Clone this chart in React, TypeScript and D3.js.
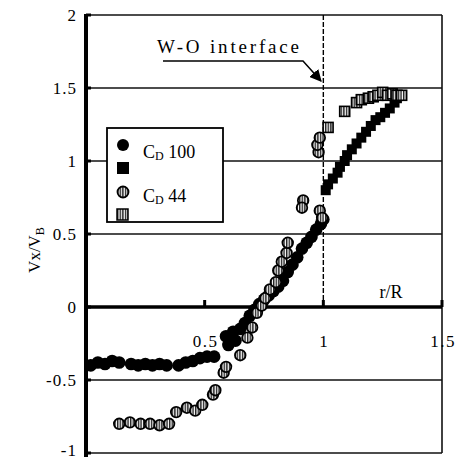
import React from "react";
import * as d3 from "d3";

const yTicks = [2, 1.5, 1, 0.5, 0, -0.5, -1];
const yTickLabels = ["2", "1.5", "1", "0.5", "0", "-0.5", "-1"];
const xTicks = [0.5, 1, 1.5];
const xTickLabels = ["0.5", "1", "1.5"];
const gridValues = [2, 1.5, 1, 0.5, -0.5, -1];

// C_D 100, circles (r/R, Vx/VB)
const cd100Circles: [number, number][] = [
  [0.02, -0.4], [0.05, -0.38], [0.08, -0.39], [0.11, -0.37], [0.14, -0.38],
  [0.19, -0.39], [0.22, -0.4], [0.25, -0.39], [0.28, -0.4], [0.31, -0.39],
  [0.34, -0.4], [0.39, -0.4], [0.42, -0.38], [0.45, -0.37], [0.48, -0.35],
  [0.51, -0.34], [0.54, -0.34],
  [0.59, -0.2], [0.6, -0.26], [0.62, -0.17], [0.63, -0.23], [0.65, -0.15],
  [0.67, -0.11], [0.69, -0.06], [0.71, -0.02], [0.73, 0.02], [0.75, 0.05],
  [0.77, 0.08], [0.79, 0.11], [0.81, 0.14], [0.83, 0.18], [0.85, 0.24],
  [0.87, 0.29], [0.89, 0.34], [0.91, 0.4], [0.93, 0.44], [0.95, 0.48],
  [0.97, 0.53], [0.99, 0.57], [1.0, 0.6],
];
// C_D 100, squares
const cd100Squares: [number, number][] = [
  [1.01, 0.8], [1.02, 0.84], [1.04, 0.88], [1.06, 0.92], [1.07, 0.96],
  [1.09, 1.0], [1.1, 1.04], [1.12, 1.08], [1.14, 1.12], [1.16, 1.16],
  [1.18, 1.2], [1.2, 1.24], [1.22, 1.28], [1.24, 1.3], [1.26, 1.33],
  [1.28, 1.36], [1.3, 1.4], [1.31, 1.43],
];
// C_D 44, circles
const cd44Circles: [number, number][] = [
  [0.14, -0.8], [0.185, -0.79], [0.23, -0.8], [0.27, -0.8], [0.31, -0.81],
  [0.35, -0.8], [0.38, -0.72], [0.425, -0.69], [0.46, -0.71], [0.49, -0.67],
  [0.535, -0.6], [0.545, -0.57], [0.58, -0.45], [0.59, -0.41], [0.65, -0.33],
  [0.68, -0.21], [0.7, -0.14], [0.72, -0.04], [0.74, 0.01], [0.755, 0.06],
  [0.775, 0.12], [0.8, 0.17], [0.81, 0.25], [0.825, 0.31], [0.845, 0.37],
  [0.85, 0.44], [0.915, 0.73], [0.91, 0.68], [0.985, 0.66], [0.995, 0.61],
  [0.98, 1.06], [0.975, 1.11], [0.985, 1.16],
];
// C_D 44, squares
const cd44Squares: [number, number][] = [
  [1.02, 1.23], [1.09, 1.34], [1.14, 1.4], [1.16, 1.42], [1.19, 1.43],
  [1.21, 1.44], [1.23, 1.45], [1.25, 1.47], [1.27, 1.45], [1.29, 1.46],
  [1.31, 1.45], [1.33, 1.45],
];

const FONT = "'Liberation Serif', 'DejaVu Serif', serif";

export default function App() {
  const x = d3.scaleLinear().domain([0, 1.5]).range([86, 442]);
  const y = d3.scaleLinear().domain([-1, 2]).range([453, 15]);
  const s = 10;

  return (
    <div style={{ position: "absolute", left: 0, top: 0 }}>
      <svg width={457} height={459} style={{ display: "block", background: "#fff" }}>
        <defs>
          <pattern id="hatch" width={2.6} height={4} patternUnits="userSpaceOnUse">
            <rect width={2.6} height={4} fill="#fff" />
            <rect x={0} width={1.4} height={4} fill="#222" />
          </pattern>
          <marker id="arrow" viewBox="0 0 10 10" refX={9} refY={5} markerWidth={8} markerHeight={8} orient="auto">
            <path d="M0,0 L10,5 L0,10 z" fill="#000" />
          </marker>
        </defs>

        {/* gridlines */}
        {gridValues.map((v) => (
          <line key={"g" + v} x1={x(0)} x2={x(1.5)} y1={y(v)} y2={y(v)} stroke="#111" strokeWidth={1.3} />
        ))}
        {/* right border */}
        <line x1={x(1.5)} x2={x(1.5)} y1={y(2)} y2={y(-1)} stroke="#111" strokeWidth={1.6} />
        {/* interface dashed line */}
        <line x1={x(1)} x2={x(1)} y1={y(2)} y2={y(0)} stroke="#000" strokeWidth={1.4} strokeDasharray="5,2" />

        {/* x axis at 0 */}
        <line x1={x(0)} x2={x(1.5)} y1={y(0)} y2={y(0)} stroke="#000" strokeWidth={3.5} />
        {xTicks.map((t) => (
          <line key={"xt" + t} x1={x(t)} x2={x(t)} y1={y(0)} y2={y(0) - 7} stroke="#000" strokeWidth={3} />
        ))}
        {/* left axis */}
        <line x1={x(0)} x2={x(0)} y1={y(2) - 1} y2={y(-1) + 4} stroke="#000" strokeWidth={4} />
        {yTicks.map((t) => (
          <line key={"yt" + t} x1={x(0)} x2={x(0) + 5} y1={y(t)} y2={y(t)} stroke="#000" strokeWidth={3} />
        ))}

        {/* y tick labels */}
        {yTicks.map((t, i) => (
          <text key={"yl" + t} x={77} y={Math.min(y(t) + 6, 456)} textAnchor="end" fontFamily={FONT} fontSize={17} letterSpacing={1} fill="#000">
            {yTickLabels[i]}
          </text>
        ))}
        {/* x tick labels */}
        {xTicks.map((t, i) => (
          <text key={"xl" + t} x={x(t) + 1} y={347} textAnchor="middle" fontFamily={FONT} fontSize={17} letterSpacing={1.5} fill="#000">
            {xTickLabels[i]}
          </text>
        ))}
        <text x={391} y={298} textAnchor="middle" fontFamily={FONT} fontSize={18} fill="#000">r/R</text>

        {/* y axis title */}
        <text transform="translate(40,250) rotate(-90)" textAnchor="middle" fontFamily={FONT} fontSize={17} fill="#000">
          Vx/V<tspan fontSize={12} dy={4}>B</tspan>
        </text>

        {/* data */}
        {cd100Circles.map((d, i) => (
          <circle key={"a" + i} cx={x(d[0])} cy={y(d[1])} r={6.3} fill="#000" />
        ))}
        {cd100Squares.map((d, i) => (
          <rect key={"b" + i} x={x(d[0]) - s / 2} y={y(d[1]) - s / 2} width={s} height={s} fill="#000" />
        ))}
        {cd44Circles.map((d, i) => (
          <circle key={"c" + i} cx={x(d[0])} cy={y(d[1])} r={5.3} fill="url(#hatch)" stroke="#000" strokeWidth={1.8} />
        ))}
        {cd44Squares.map((d, i) => (
          <rect key={"d" + i} x={x(d[0]) - s / 2} y={y(d[1]) - s / 2} width={s} height={s} fill="url(#hatch)" stroke="#000" strokeWidth={1.6} />
        ))}

        {/* annotation */}
        <text x={157} y={53} fontFamily={FONT} fontSize={19} textLength={142} lengthAdjust="spacing" fill="#000">W-O interface</text>
        <polyline points="163,61 303,61 321,81" fill="none" stroke="#000" strokeWidth={1.5} markerEnd="url(#arrow)" />

        {/* legend */}
        <rect x={107} y={128} width={116} height={94} fill="#fff" stroke="#000" strokeWidth={1.8} />
        <circle cx={123} cy={145} r={6} fill="#000" />
        <rect x={117} y={162} width={12} height={12} fill="#000" />
        <circle cx={123} cy={192} r={5.5} fill="url(#hatch)" stroke="#000" strokeWidth={1.8} />
        <rect x={117} y={209} width={11} height={11} fill="url(#hatch)" stroke="#000" strokeWidth={1.5} />
        <text x={143} y={158} fontFamily={FONT} fontSize={18} fill="#000">
          C<tspan fontSize={12} dy={2}>D</tspan><tspan dy={-2}> 100</tspan>
        </text>
        <text x={143} y={202} fontFamily={FONT} fontSize={18} fill="#000">
          C<tspan fontSize={12} dy={2}>D</tspan><tspan dy={-2}> 44</tspan>
        </text>
      </svg>
    </div>
  );
}
